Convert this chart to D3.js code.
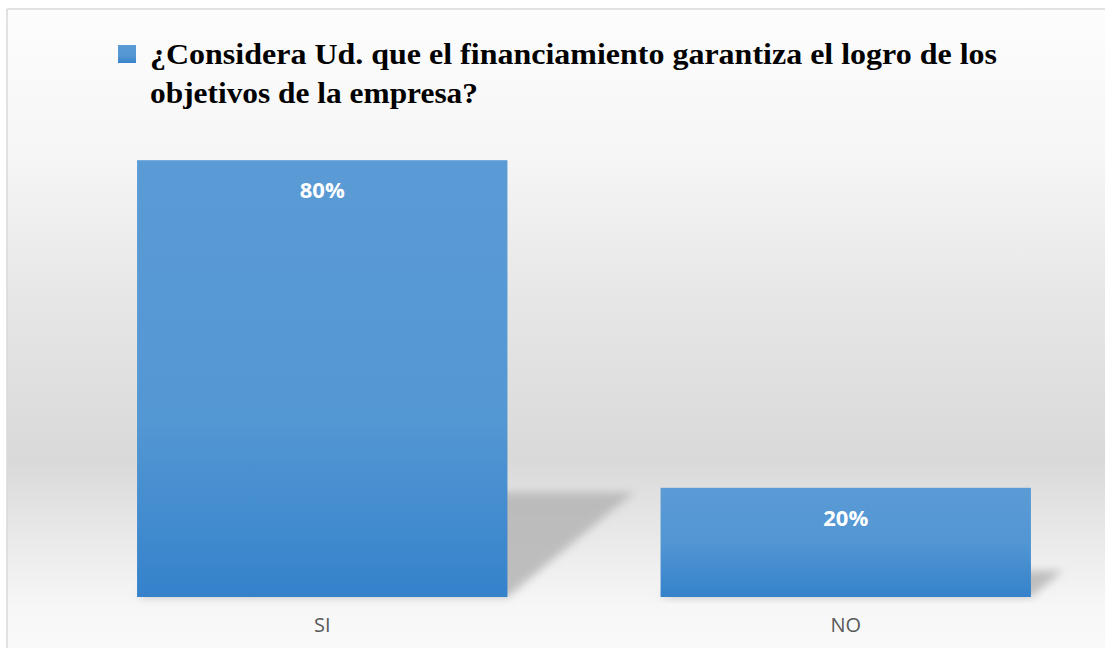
<!DOCTYPE html>
<html>
<head>
<meta charset="utf-8">
<script src="https://cdn.jsdelivr.net/npm/d3@7"></script>
<style>
  html, body { margin: 0; padding: 0; background: #ffffff; }
  svg { display: block; }
</style>
</head>
<body>
<svg id="chart" width="1105" height="648"></svg>
<script>
// ---- data ----
const categories = ["SI", "NO"];
const values = [0.80, 0.20];
const valueLabels = ["80%", "20%"];
const titleLines = [
  "¿Considera Ud. que el financiamiento garantiza el logro de los",
  "objetivos de la empresa?"
];
const titleWidths = [847, 328];

const W = 1105, H = 648;
const svg = d3.select("#chart");
const defs = svg.append("defs");

// background gradient
const bg = defs.append("linearGradient").attr("id", "bgGrad")
  .attr("x1", 0).attr("y1", 0).attr("x2", 0).attr("y2", 1);
[[0, "#fdfdfd"], [0.22, "#f6f6f6"], [0.455, "#e6e6e6"], [0.695, "#d9d9d9"],
 [0.80, "#e7e7e7"], [0.925, "#f7f7f7"], [1, "#fafafa"]]
  .forEach(([o, c]) => bg.append("stop").attr("offset", o).attr("stop-color", c));

// bar gradient
const bar = defs.append("linearGradient").attr("id", "barGrad")
  .attr("x1", 0).attr("y1", 0).attr("x2", 0).attr("y2", 1);
[[0, "#5b9bd5"], [0.6, "#5397d3"], [1, "#3582cb"]]
  .forEach(([o, c]) => bar.append("stop").attr("offset", o).attr("stop-color", c));

const barBot = defs.append("linearGradient").attr("id", "barGradShort")
  .attr("x1", 0).attr("y1", 0).attr("x2", 0).attr("y2", 1);
[[0, "#5b9bd5"], [0.5, "#5296d3"], [1, "#3582cb"]]
  .forEach(([o, c]) => barBot.append("stop").attr("offset", o).attr("stop-color", c));

// shadow blur
defs.append("filter").attr("id", "blur")
  .attr("x", "-20%").attr("y", "-20%").attr("width", "140%").attr("height", "140%")
  .append("feGaussianBlur").attr("stdDeviation", 4);

// chart area frame
svg.append("rect").attr("x", 7).attr("y", 9).attr("width", W).attr("height", H)
  .attr("fill", "url(#bgGrad)");
svg.append("line").attr("x1", 7).attr("x2", 7).attr("y1", 9).attr("y2", H)
  .attr("stroke", "#d9d9d9").attr("stroke-width", 1.5);
svg.append("line").attr("x1", 7).attr("x2", W).attr("y1", 9).attr("y2", 9)
  .attr("stroke", "#d9d9d9").attr("stroke-width", 1.5);

// scales
const x = d3.scaleBand().domain(categories).range([60.5, 1107.5])
  .paddingInner(0.2925).paddingOuter(0.14625);
const y = d3.scaleLinear().domain([0, 1]).range([597, 51]);

const data = categories.map((c, i) => ({ c, v: values[i], label: valueLabels[i] }));

// shadows
const sH = 0.24, sX = 0.29;
svg.append("g").selectAll("path").data(data).join("path")
  .attr("d", d => {
    const x0 = x(d.c), x1 = x0 + x.bandwidth();
    const base = y(0), h = y(0) - y(d.v);
    const dy = h * sH, dx = h * sX;
    return `M${x0},${base}L${x1},${base}L${x1 + dx},${base - dy}L${x0 + dx},${base - dy}Z`;
  })
  .attr("fill", "#b5b5b5").attr("opacity", 0.85)
  .attr("filter", "url(#blur)");

// bars
svg.append("g").selectAll("rect").data(data).join("rect")
  .attr("x", d => x(d.c))
  .attr("y", d => y(d.v))
  .attr("width", x.bandwidth())
  .attr("height", d => y(0) - y(d.v))
  .attr("fill", (d, i) => i === 0 ? "url(#barGrad)" : "url(#barGradShort)");

// value labels
svg.append("g").selectAll("text").data(data).join("text")
  .attr("x", d => x(d.c) + x.bandwidth() / 2)
  .attr("y", d => y(d.v) + 38)
  .attr("text-anchor", "middle")
  .attr("font-family", "'Open Sans', sans-serif")
  .attr("font-weight", "bold")
  .attr("font-size", 22)
  .attr("fill", "#ffffff")
  .text(d => d.label);

// x axis
const xAxis = svg.append("g").attr("transform", `translate(0,${y(0)})`)
  .call(d3.axisBottom(x).tickSize(0).tickPadding(21));
xAxis.select(".domain").remove();
xAxis.selectAll("text")
  .attr("font-family", "'Open Sans', sans-serif")
  .attr("font-size", 20)
  .attr("fill", "#595959");

// legend / title
svg.append("rect").attr("x", 118).attr("y", 45).attr("width", 18).attr("height", 18)
  .attr("fill", "url(#barGrad)");
titleLines.forEach((t, i) => {
  svg.append("text")
    .attr("x", 150).attr("y", 64 + i * 39)
    .attr("font-family", "'Liberation Serif', 'Times New Roman', serif")
    .attr("font-weight", "bold")
    .attr("font-size", 29)
    .attr("fill", "#000000")
    .attr("textLength", titleWidths[i])
    .attr("lengthAdjust", "spacingAndGlyphs")
    .text(t);
});
</script>
</body>
</html>
